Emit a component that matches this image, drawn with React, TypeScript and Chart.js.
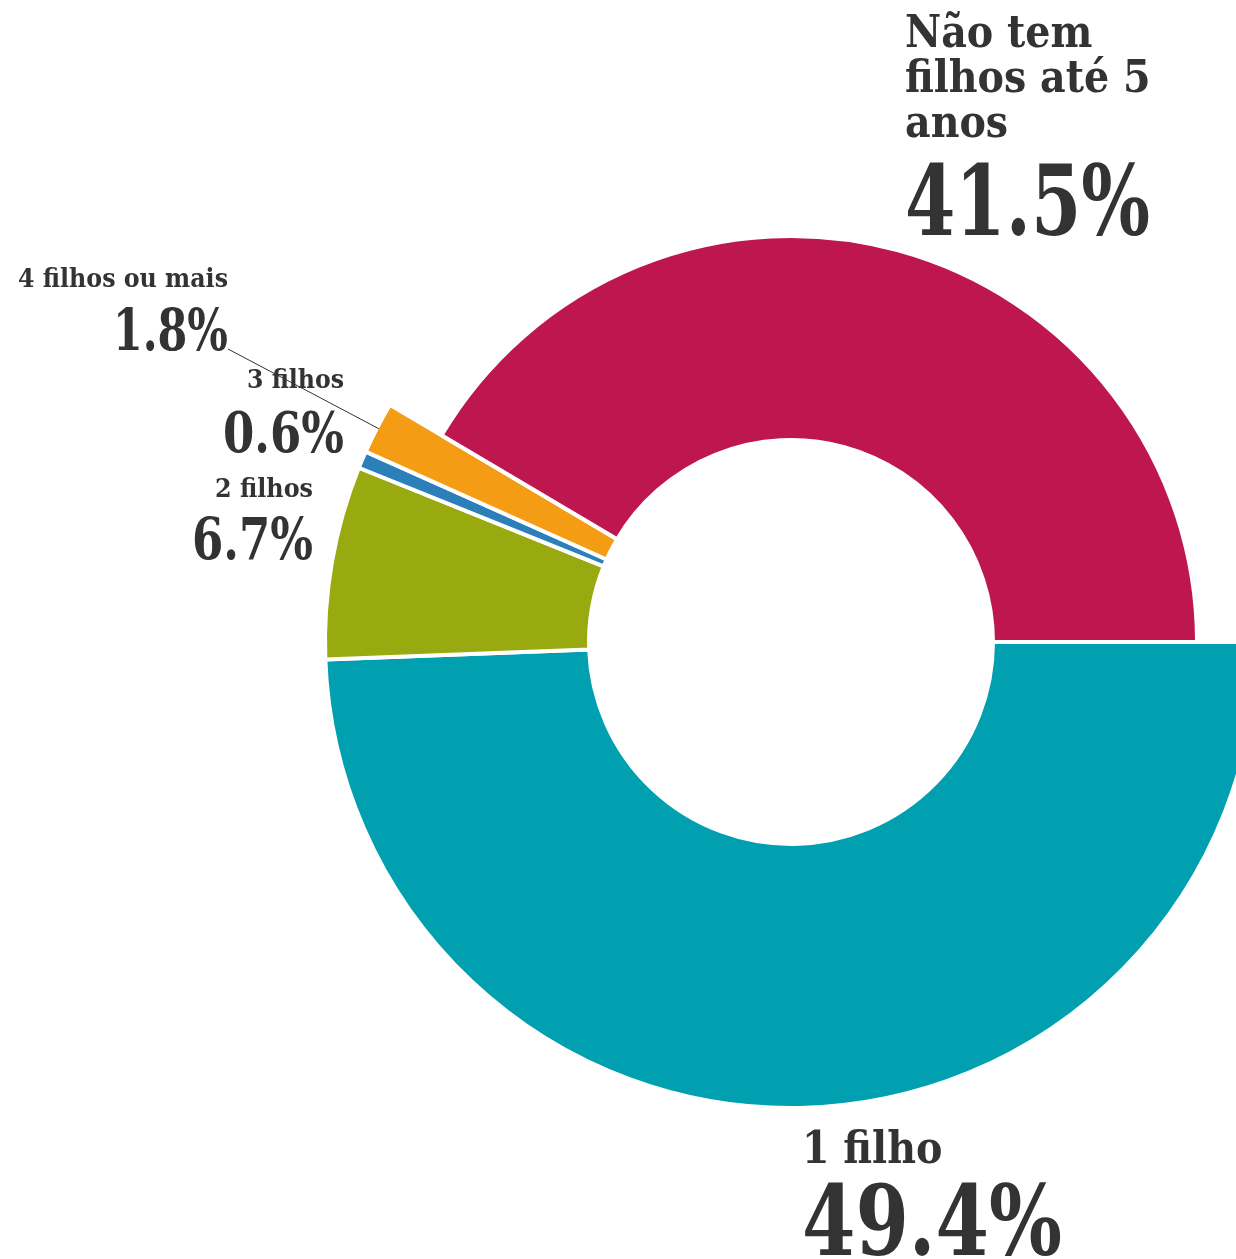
import React, { useEffect, useRef } from "react";
import { Chart, registerables } from "chart.js";

Chart.register(...registerables);

// ---- data ----
const categories = ["1 filho", "2 filhos", "3 filhos", "4 filhos ou mais", "Não tem filhos até 5 anos"];
const shares = [49.4, 6.7, 0.6, 1.8, 41.5];
const nameLines = [["1 filho"], ["2 filhos"], ["3 filhos"], ["4 filhos ou mais"], ["Não tem", "filhos até 5", "anos"]];

// ---- styles ----
const colors = ["#00A0B0", "#99AA11", "#2B80BA", "#F39C14", "#BE1750"];
const outerRadii = [466, 466, 466, 466, 406];
const TEXT = "#333333";
const FONT = '"Roboto Slab", "DejaVu Serif Condensed", "DejaVu Serif", serif';

// label placement: align, x, name baselines, name size, name target width, pct baseline, pct size, pct target width
const labelLayout = [
  { align: "left", x: 802, nameY: [1163], nameSize: 44, nameW: 0, pctY: 1255, pctSize: 98, pctW: 260 },
  { align: "right", x: 313, nameY: [497], nameSize: 26, nameW: 98, pctY: 559, pctSize: 58, pctW: 121 },
  { align: "right", x: 344, nameY: [388], nameSize: 26, nameW: 97, pctY: 452, pctSize: 56, pctW: 121 },
  { align: "right", x: 228, nameY: [287], nameSize: 26, nameW: 210, pctY: 350, pctSize: 58, pctW: 115 },
  { align: "left", x: 905, nameY: [47, 92, 137], nameSize: 44, nameW: 0, pctY: 235, pctSize: 98, pctW: 245 },
];

function fillFit(ctx: CanvasRenderingContext2D, text: string, x: number, y: number, targetW: number) {
  const w = ctx.measureText(text).width;
  const sx = targetW > 0 && w > 0 ? targetW / w : 1;
  ctx.save();
  ctx.translate(x, y);
  ctx.scale(sx, 1);
  ctx.fillText(text, 0, 0);
  ctx.restore();
}

const radiusPlugin = {
  id: "varRadius",
  afterDatasetsUpdate(chart: any) {
    const meta = chart.getDatasetMeta(0);
    meta.data.forEach((arc: any, i: number) => {
      arc.outerRadius = outerRadii[i];
    });
  },
};

const labelPlugin = {
  id: "labels",
  afterDraw(chart: any) {
    const ctx = chart.ctx as CanvasRenderingContext2D;
    const meta = chart.getDatasetMeta(0);
    ctx.save();
    ctx.fillStyle = TEXT;
    ctx.strokeStyle = TEXT;
    // leader line for "4 filhos ou mais"
    const arc = meta.data[3];
    const mid = (arc.startAngle + arc.endAngle) / 2;
    const ex = arc.x + Math.cos(mid) * (arc.outerRadius - 2);
    const ey = arc.y + Math.sin(mid) * (arc.outerRadius - 2);
    ctx.lineWidth = 1;
    ctx.beginPath();
    ctx.moveTo(228, 349);
    ctx.lineTo(ex, ey);
    ctx.stroke();

    labelLayout.forEach((l, i) => {
      ctx.textAlign = l.align as CanvasTextAlign;
      ctx.textBaseline = "alphabetic";
      ctx.font = `bold ${l.nameSize}px ${FONT}`;
      nameLines[i].forEach((t, k) => fillFit(ctx, t, l.x, l.nameY[k], l.nameW));
      ctx.font = `bold ${l.pctSize}px ${FONT}`;
      fillFit(ctx, `${shares[i].toFixed(1)}%`, l.x, l.pctY, l.pctW);
    });
    ctx.restore();
  },
};

export default function App() {
  const ref = useRef<HTMLCanvasElement>(null);
  useEffect(() => {
    document.body.style.margin = "0";
    const chart = new Chart(ref.current as HTMLCanvasElement, {
      type: "doughnut",
      data: {
        labels: categories,
        datasets: [
          {
            data: shares,
            backgroundColor: colors,
            borderColor: "#ffffff",
            borderWidth: 4,
            hoverOffset: 0,
          },
        ],
      },
      options: {
        responsive: false,
        animation: false,
        rotation: 90,
        radius: 406,
        cutout: "49.75%",
        layout: { padding: { left: 346, right: 0, top: 25, bottom: 0 } },
        plugins: { legend: { display: false }, tooltip: { enabled: false } },
      },
      plugins: [radiusPlugin, labelPlugin],
    });
    return () => chart.destroy();
  }, []);
  return (
    <div style={{ position: "absolute", left: 0, top: 0, width: 1236, height: 1259, background: "#fff" }}>
      <canvas ref={ref} width={1236} height={1259} />
    </div>
  );
}
